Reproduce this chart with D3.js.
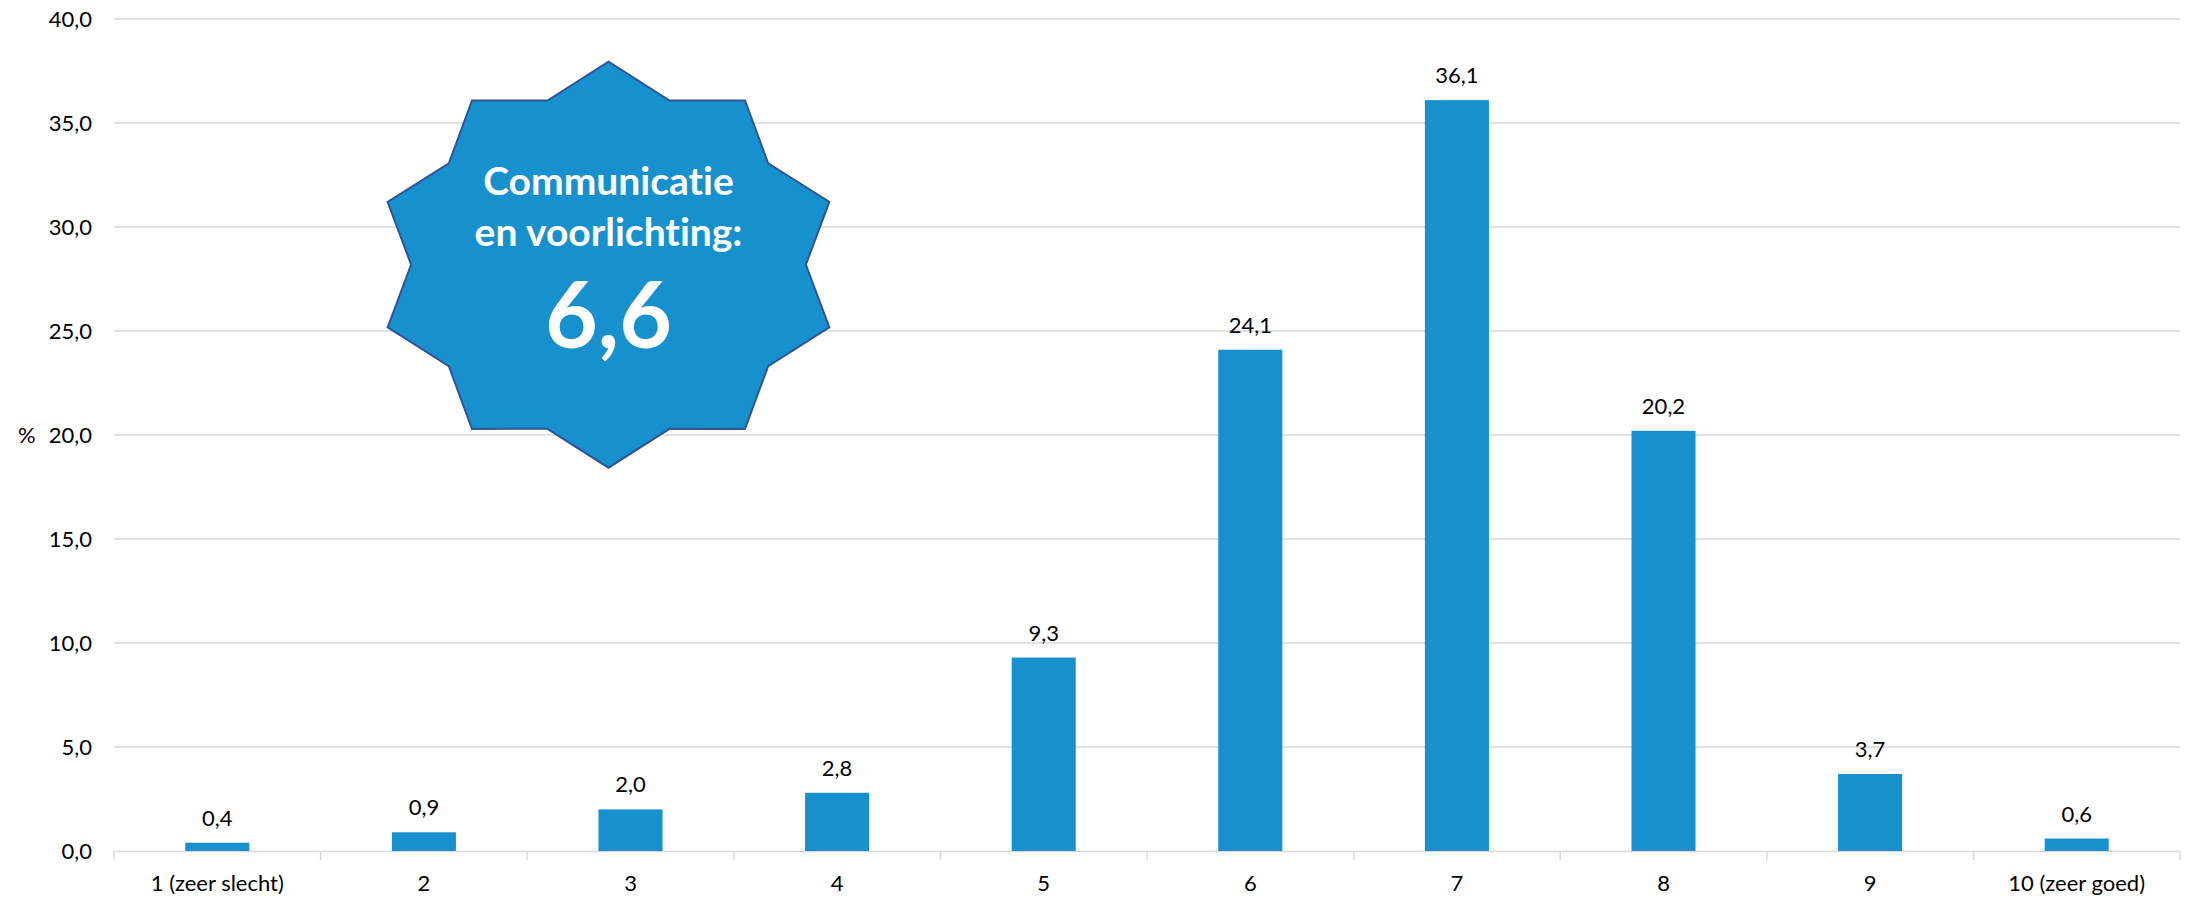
<!DOCTYPE html>
<html><head><meta charset="utf-8">
<script src="https://cdn.jsdelivr.net/npm/d3@7"></script>
<style>body{margin:0;background:#fff}svg{display:block}text{font-variant-ligatures:none;font-feature-settings:"liga" 0}</style>
</head><body>
<script>
const categories = ["1 (zeer slecht)","2","3","4","5","6","7","8","9","10 (zeer goed)"];
const values = [0.4,0.9,2.0,2.8,9.3,24.1,36.1,20.2,3.7,0.6];
const yTicks = [0,5,10,15,20,25,30,35,40];
const badgeLines = ["Communicatie","en voorlichting:"];
const badgeScore = "6,6";
const yLabel = "%";

const W = 2193, H = 897;
const barColor = "#1791CE";
const fmt = v => d3.format(".1f")(v).replace(".", ",");
const font = "Lato, 'Open Sans', sans-serif";
const fs = 22;

const svg = d3.select("body").append("svg").attr("width", W).attr("height", H);
const x = d3.scaleBand().domain(categories).range([114, 2180]).paddingInner(0.69).paddingOuter(0.345);
const y = d3.scaleLinear().domain([0, 40]).range([851, 19]);

// gridlines
svg.append("g").selectAll("line").data(yTicks.filter(t => t > 0)).join("line")
  .attr("x1", 114).attr("x2", 2180).attr("y1", d => y(d)).attr("y2", d => y(d))
  .attr("stroke", "#D9D9D9").attr("stroke-width", 1.5);

// y axis labels
const ya = svg.append("g").attr("transform", "translate(114,0)")
  .call(d3.axisLeft(y).tickValues(yTicks).tickFormat(fmt).tickSize(0).tickPadding(22));
ya.select(".domain").remove();
ya.selectAll("text").attr("font-family", font).attr("font-size", fs).attr("fill", "#000");

// x axis
const xa = svg.append("g").attr("transform", "translate(0,851)")
  .call(d3.axisBottom(x).tickSize(0).tickPadding(24));
xa.select(".domain").attr("stroke", "#D9D9D9").attr("stroke-width", 1.5);
xa.selectAll("text").attr("font-family", font).attr("font-size", fs).attr("fill", "#000");
// category separator ticks
const step = x.step();
svg.append("g").selectAll("line").data(d3.range(categories.length + 1)).join("line")
  .attr("x1", i => 114 + i * step).attr("x2", i => 114 + i * step)
  .attr("y1", 851).attr("y2", 860).attr("stroke", "#D9D9D9").attr("stroke-width", 1.5);

// bars
svg.append("g").selectAll("rect").data(values).join("rect")
  .attr("x", (d, i) => x(categories[i])).attr("width", x.bandwidth())
  .attr("y", d => y(d)).attr("height", d => y(0) - y(d)).attr("fill", barColor);

// value labels
svg.append("g").selectAll("text").data(values).join("text")
  .attr("x", (d, i) => x(categories[i]) + x.bandwidth() / 2)
  .attr("y", d => y(d) - 17).attr("text-anchor", "middle")
  .attr("font-family", font).attr("font-size", fs).attr("fill", "#000").text(fmt);

// y label
svg.append("text").attr("x", 18).attr("y", 443).attr("font-family", font).attr("font-size", fs).text(yLabel);

// star badge
const cx = 608.5, cy = 264.7, rx = 232.2, ry = 203, k = 0.85;
const pts = d3.range(20).map(i => {
  const a = i * Math.PI / 10;
  const f = i % 2 === 0 ? 1 : k;
  return [cx + rx * f * Math.sin(a), cy - ry * f * Math.cos(a)];
});
svg.append("path").attr("d", d3.line()(pts) + "Z")
  .attr("fill", barColor).attr("stroke", "#2F5597").attr("stroke-width", 2);

svg.append("text").attr("x", cx).attr("y", 195).attr("text-anchor", "middle")
  .attr("font-family", font).attr("font-weight", "bold").attr("font-size", 39).attr("fill", "#fff").text(badgeLines[0]);
svg.append("text").attr("x", cx).attr("y", 246).attr("text-anchor", "middle")
  .attr("font-family", font).attr("font-weight", "bold").attr("font-size", 39).attr("fill", "#fff").text(badgeLines[1]);
svg.append("text").attr("x", cx).attr("y", 348).attr("text-anchor", "middle")
  .attr("font-family", font).attr("font-weight", "bold").attr("font-size", 91).attr("fill", "#fff").text(badgeScore);
</script>
</body></html>
